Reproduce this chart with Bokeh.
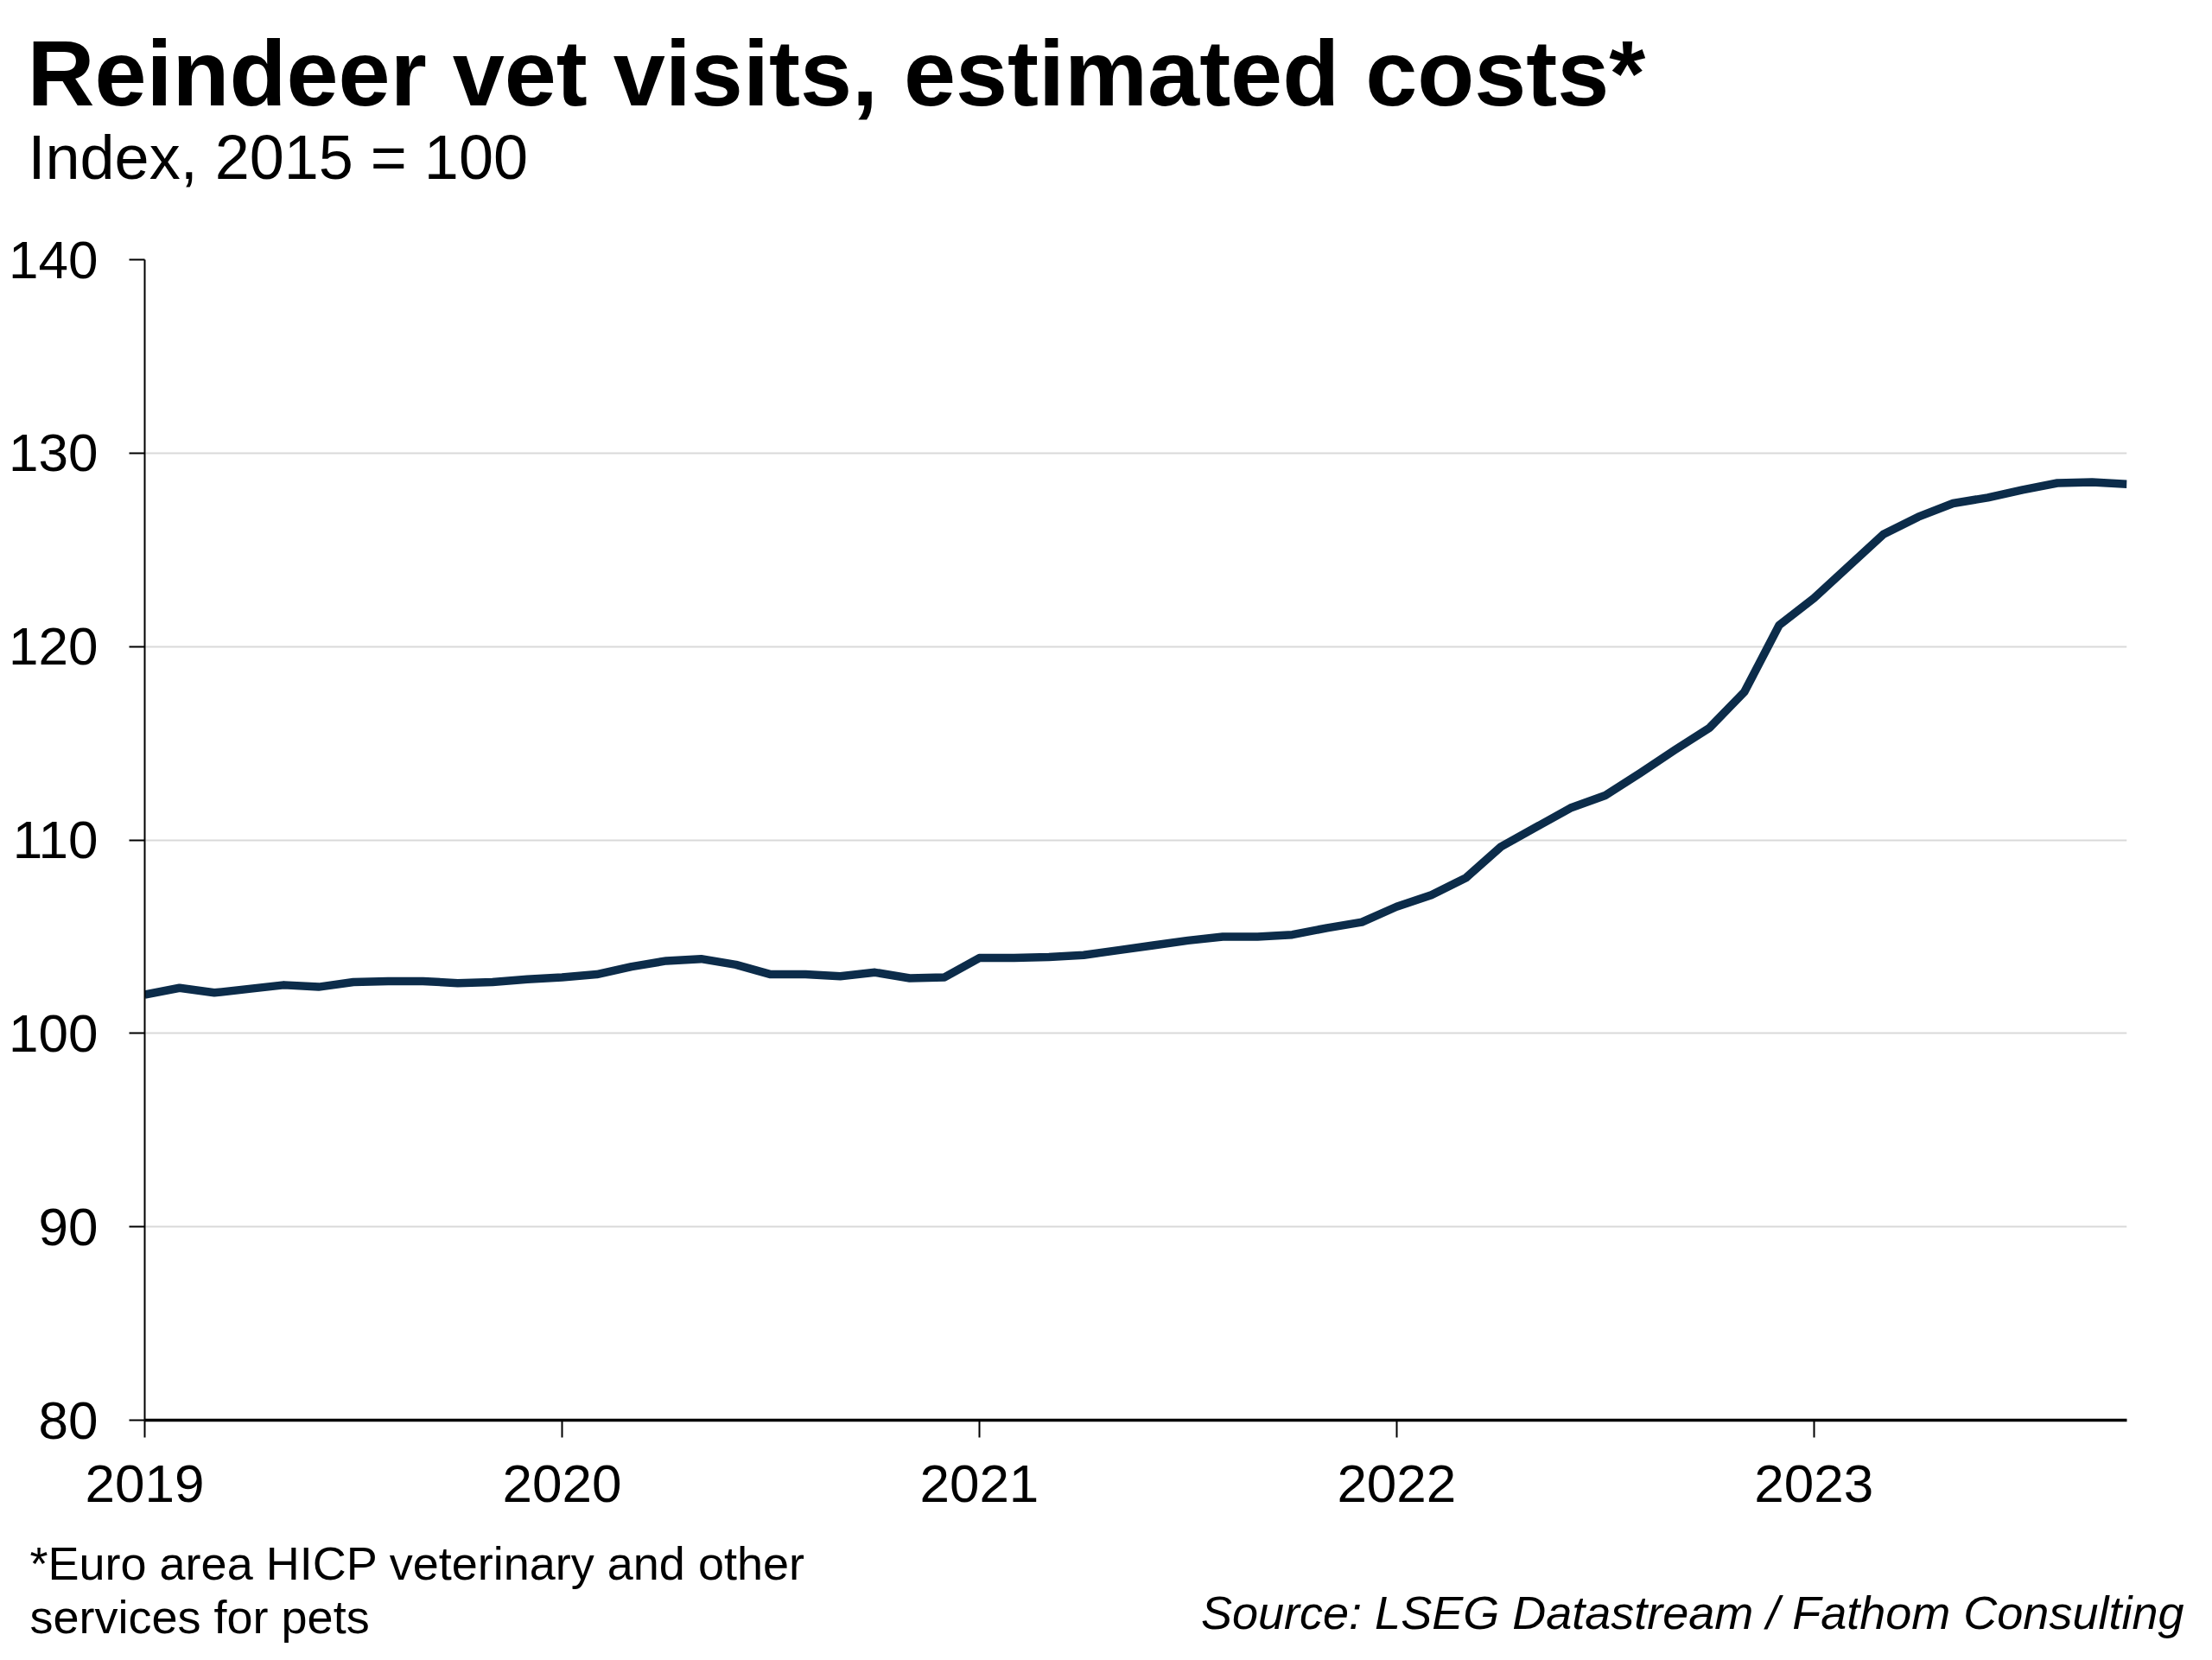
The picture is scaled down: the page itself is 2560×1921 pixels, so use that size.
from bokeh.plotting import figure
from bokeh.models import Range1d, FixedTicker, Label, ColumnDataSource
from bokeh.embed import file_html
from bokeh.resources import INLINE

# ---- data ----
years = [2019] * 12 + [2020] * 12 + [2021] * 12 + [2022] * 12 + [2023] * 10
months = list(range(1, 13)) * 4 + list(range(1, 11))
index_values = [
    102.0, 102.35, 102.1, 102.3, 102.5, 102.4, 102.65, 102.7, 102.7, 102.6, 102.65, 102.8,
    102.9, 103.05, 103.45, 103.75, 103.85, 103.55, 103.05, 103.05, 102.95, 103.15, 102.85, 102.9,
    103.9, 103.9, 103.95, 104.05, 104.3, 104.55, 104.8, 105.0, 105.0, 105.1, 105.45, 105.75,
    106.55, 107.15, 108.05, 109.65, 110.65, 111.65, 112.3, 113.45, 114.65, 115.8, 117.65, 121.1,
    122.5, 124.15, 125.8, 126.7, 127.4, 127.7, 128.1, 128.45, 128.5, 128.4,
]
year_ticks = [2019, 2020, 2021, 2022, 2023]
y_ticks = [80, 90, 100, 110, 120, 130, 140]

title_text = "Reindeer vet visits, estimated costs*"
subtitle_text = "Index, 2015 = 100"
footnote_lines = ["*Euro area HICP veterinary and other", "services for pets"]
source_text = "Source: LSEG Datastream / Fathom Consulting"

x_vals = [y + (m - 1) / 12 for y, m in zip(years, months)]
src = ColumnDataSource(dict(x=x_vals, y=index_values))

FONT = "Liberation Sans"
LINE_COLOR = "#0c2c4a"
W, H = 2544, 1905
FRAME_L, FRAME_R, FRAME_T, FRAME_B = 167, 2461, 300, 1643

p = figure(
    width=W, height=H,
    output_backend="svg", toolbar_location=None,
    x_range=Range1d(x_vals[0], x_vals[-1]),
    y_range=Range1d(80, 140),
    min_border_left=FRAME_L, min_border_right=W - FRAME_R,
    min_border_top=FRAME_T, min_border_bottom=H - FRAME_B,
)
p.outline_line_color = None
p.background_fill_color = "white"
p.border_fill_color = "white"

p.xgrid.visible = False
p.ygrid.grid_line_color = "#d9d9d9"
p.ygrid.grid_line_width = 2

p.xaxis.ticker = FixedTicker(ticks=year_ticks)
p.xaxis.axis_line_color = "black"
p.xaxis.axis_line_width = 3.5
p.xaxis.major_tick_line_color = "black"
p.xaxis.major_tick_line_width = 2
p.xaxis.major_tick_out = 20
p.xaxis.major_tick_in = 0
p.xaxis.minor_tick_line_color = None
p.xaxis.major_label_text_font = FONT
p.xaxis.major_label_text_font_size = "62px"
p.xaxis.major_label_text_color = "black"
p.xaxis.major_label_standoff = 32

p.yaxis.ticker = FixedTicker(ticks=y_ticks)
p.yaxis.axis_line_color = "black"
p.yaxis.axis_line_width = 2
p.yaxis.major_tick_line_color = "black"
p.yaxis.major_tick_line_width = 2
p.yaxis.major_tick_out = 18
p.yaxis.major_tick_in = 0
p.yaxis.minor_tick_line_color = None
p.yaxis.major_label_text_font = FONT
p.yaxis.major_label_text_font_size = "62px"
p.yaxis.major_label_text_color = "black"
p.yaxis.major_label_standoff = 36

p.line("x", "y", source=src, line_color=LINE_COLOR, line_width=9.5, line_join="round")


def make_label(text, x, y, size, style="normal", align="left"):
    return Label(
        x=x, y=y, x_units="screen", y_units="screen", text=text,
        text_font=FONT, text_font_size=size, text_font_style=style,
        text_color="black", text_align=align, text_baseline="alphabetic",
    )


# labels placed in side panels (so they are not clipped to the frame)
p.add_layout(make_label(subtitle_text, -135, 119, "72px"), "above")
p.add_layout(make_label(title_text, -136, 136, "108px", "bold"), "above")
p.add_layout(make_label(source_text, 2360, -1766, "54px", "italic", "right"), "above")
p.add_layout(make_label(footnote_lines[0], -133, -8, "54px"), "below")
p.add_layout(make_label(footnote_lines[1], -133, -10, "54px"), "below")

open("out.html", "w").write(file_html(p, INLINE))
